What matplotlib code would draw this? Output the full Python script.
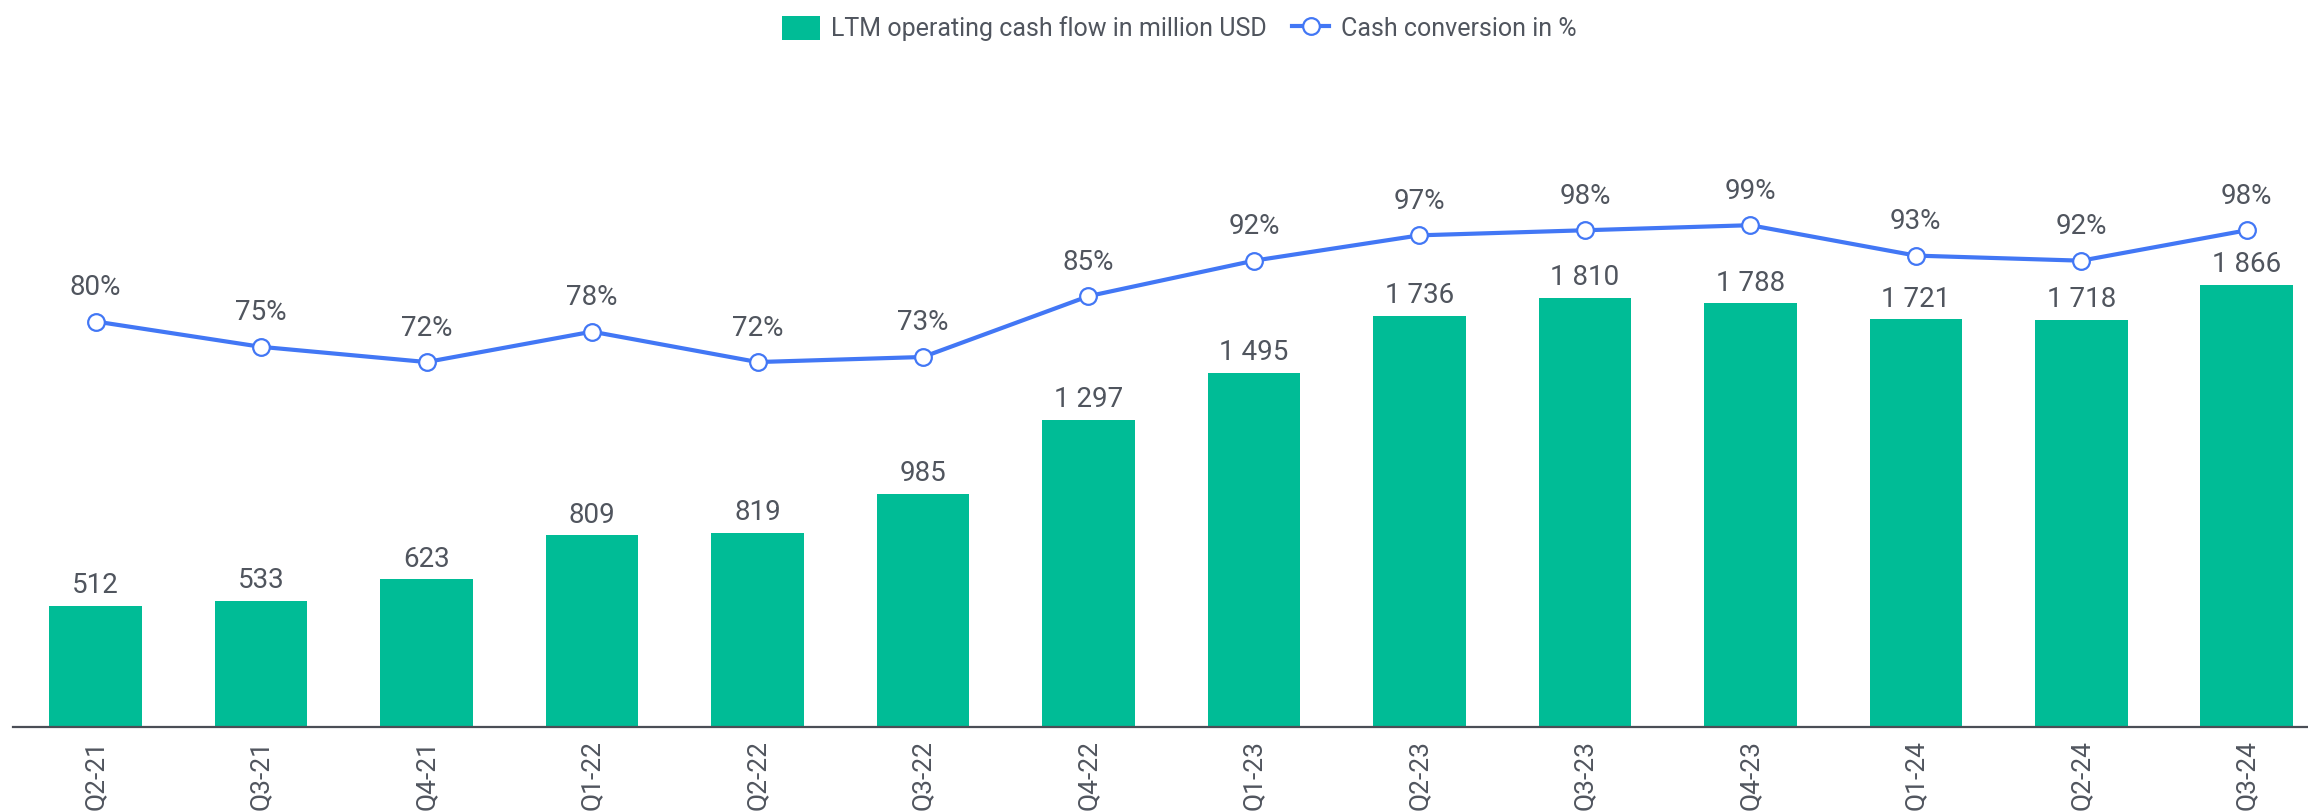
import matplotlib
matplotlib.use("Agg")
import matplotlib.pyplot as plt
from matplotlib.lines import Line2D
from matplotlib.patches import Patch

categories = ["Q2-21", "Q3-21", "Q4-21", "Q1-22", "Q2-22", "Q3-22", "Q4-22",
              "Q1-23", "Q2-23", "Q3-23", "Q4-23", "Q1-24", "Q2-24", "Q3-24"]
cash_flow = [512, 533, 623, 809, 819, 985, 1297, 1495, 1736, 1810, 1788, 1721, 1718, 1866]
conversion = [80, 75, 72, 78, 72, 73, 85, 92, 97, 98, 99, 93, 92, 98]

BAR = "#00BC96"
LINE = "#4277F5"
TXT = "#50555E"

plt.rcParams['font.family'] = ['Roboto', 'DejaVu Sans']

fig = plt.figure(figsize=(23.08, 8.11), dpi=100)
ax = fig.add_axes([0.0056, 1 - 727 / 811, 0.9944, (727 - 100) / 811])
x = list(range(len(categories)))
ax.bar(x, cash_flow, width=0.56, color=BAR, zorder=2)
ax.set_xlim(-0.5, 13.37)
ax.set_ylim(0, 2646)
for s in ["top", "right", "left"]:
    ax.spines[s].set_visible(False)
ax.spines["bottom"].set_color("#4a4e56")
ax.spines["bottom"].set_linewidth(1.6)
ax.set_yticks([])
ax.set_xticks(x)
ax.set_xticklabels(categories, rotation=90, fontsize=19, color=TXT)
ax.tick_params(axis="x", length=0, pad=9)

for xi, v in zip(x, cash_flow):
    lab = f"{v:,}".replace(",", " ")
    ax.annotate(lab, (xi, v), xytext=(0, 14.5), textcoords="offset points",
                ha="center", va="center", fontsize=20, color=TXT)

ax2 = ax.twinx()
ax2.set_ylim(0, 123.7)
ax2.plot(x, conversion, color=LINE, lw=3, marker="o", ms=12,
         mfc="white", mec=LINE, mew=1.6, zorder=3)
for s in ax2.spines.values():
    s.set_visible(False)
ax2.set_yticks([])
for xi, v in zip(x, conversion):
    ax2.annotate(f"{v}%", (xi, v), xytext=(0, 24.5), textcoords="offset points",
                 ha="center", va="center", fontsize=20, color=TXT)

handles = [Patch(facecolor=BAR, edgecolor="none"),
           Line2D([0], [0], color=LINE, lw=3, marker="o", ms=12, mfc="white",
                  mec=LINE, mew=1.6)]
fig.legend(handles, ["LTM operating cash flow in million USD", "Cash conversion in %"],
           loc="center", bbox_to_anchor=(0.511, 0.965), ncol=2, frameon=False,
           fontsize=18, labelcolor=TXT, handlelength=1.5, handleheight=1.1,
           columnspacing=1.0, handletextpad=0.45)

fig.savefig("out.png", dpi=100)
